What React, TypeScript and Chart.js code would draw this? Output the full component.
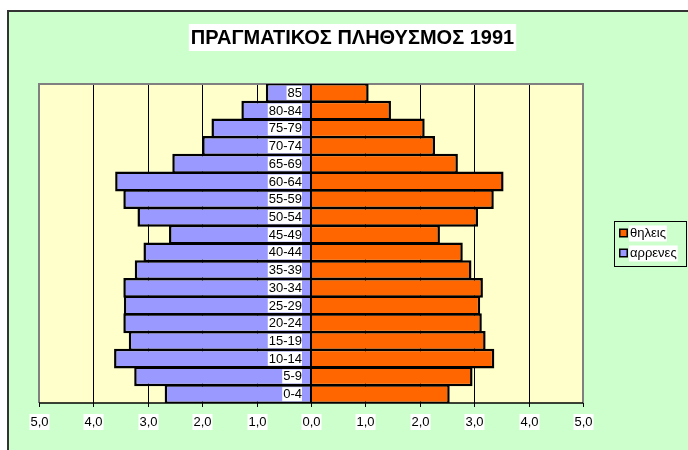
import React, { useEffect, useRef } from "react";
import { Chart, registerables } from "chart.js";

Chart.register(...registerables);

const ageGroups = ["0-4", "5-9", "10-14", "15-19", "20-24", "25-29", "30-34", "35-39", "40-44", "45-49", "50-54", "55-59", "60-64", "65-69", "70-74", "75-79", "80-84", "85"];
const males = [2.69, 3.25, 3.62, 3.35, 3.45, 3.44, 3.45, 3.24, 3.08, 2.61, 3.19, 3.45, 3.6, 2.55, 2.0, 1.83, 1.28, 0.83];
const females = [2.55, 2.97, 3.37, 3.21, 3.14, 3.11, 3.16, 2.95, 2.79, 2.37, 3.07, 3.36, 3.54, 2.7, 2.28, 2.09, 1.47, 1.06];
const xTicks = [-5, -4, -3, -2, -1, 0, 1, 2, 3, 4, 5];
const chartTitle = "ΠΡΑΓΜΑΤΙΚΟΣ ΠΛΗΘΥΣΜΟΣ 1991";
const femaleLabel = "θηλεις";
const maleLabel = "αρρενες";

const FONT = "'Liberation Sans', Arial, sans-serif";
const MALE_COLOR = "#9999FF";
const FEMALE_COLOR = "#FF6600";

const fmt = (v: number) => Math.abs(v).toFixed(1).replace(".", ",");

const decorPlugin = {
  id: "decor",
  beforeDraw(chart: any) {
    const ctx = chart.ctx;
    const a = chart.chartArea;
    const xs = chart.scales.x;
    ctx.save();
    ctx.fillStyle = "#ffffff";
    ctx.fillRect(0, 0, chart.width, chart.height);
    ctx.fillStyle = "#CCFFCC";
    ctx.fillRect(8, 11, chart.width, chart.height);
    ctx.strokeStyle = "#333333";
    ctx.lineWidth = 2;
    ctx.beginPath();
    ctx.moveTo(8, chart.height + 5);
    ctx.lineTo(8, 11);
    ctx.lineTo(chart.width + 5, 11);
    ctx.stroke();
    ctx.fillStyle = "#FFFFCC";
    ctx.fillRect(a.left, a.top, a.right - a.left, a.bottom - a.top);
    ctx.strokeStyle = "#000000";
    ctx.lineWidth = 1;
    xTicks.forEach((t) => {
      if (Math.abs(t) === 5 || t === 0) return;
      const px = Math.round(xs.getPixelForValue(t)) + 0.5;
      ctx.beginPath();
      ctx.moveTo(px, a.top);
      ctx.lineTo(px, a.bottom);
      ctx.stroke();
    });
    ctx.strokeStyle = "#808080";
    ctx.lineWidth = 2;
    ctx.beginPath();
    ctx.moveTo(a.left, a.bottom);
    ctx.lineTo(a.left, a.top);
    ctx.lineTo(a.right, a.top);
    ctx.lineTo(a.right, a.bottom);
    ctx.stroke();
    ctx.restore();
  },
  afterDatasetsDraw(chart: any) {
    const ctx = chart.ctx;
    const a = chart.chartArea;
    const xs = chart.scales.x;
    const ys = chart.scales.y;
    ctx.save();
    const zero = xs.getPixelForValue(0);
    ctx.strokeStyle = "#000000";
    ctx.lineWidth = 2;
    ctx.beginPath();
    ctx.moveTo(zero, a.top);
    ctx.lineTo(zero, a.bottom);
    ctx.stroke();
    ctx.lineWidth = 1.5;
    ctx.beginPath();
    ctx.moveTo(a.left, a.bottom);
    ctx.lineTo(a.right, a.bottom);
    ctx.stroke();
    ctx.font = "13px " + FONT;
    ctx.textBaseline = "middle";
    ctx.textAlign = "center";
    xTicks.forEach((t) => {
      const px = Math.round(xs.getPixelForValue(t)) + 0.5;
      ctx.strokeStyle = "#000000";
      ctx.lineWidth = 1;
      ctx.beginPath();
      ctx.moveTo(px, a.bottom);
      ctx.lineTo(px, a.bottom + 4);
      ctx.stroke();
      const label = fmt(t);
      const w = ctx.measureText(label).width;
      ctx.fillStyle = "#ffffff";
      ctx.fillRect(px - w / 2 - 1, 414, w + 2, 16);
      ctx.fillStyle = "#000000";
      ctx.fillText(label, px, 422);
    });
    ctx.textAlign = "right";
    const right = zero - 9;
    ageGroups.forEach((g, i) => {
      const py = ys.getPixelForValue(i);
      const w = ctx.measureText(g).width;
      ctx.fillStyle = "#ffffff";
      ctx.fillRect(right - w - 1, py - 7, w + 1, 14);
      ctx.fillStyle = "#000000";
      ctx.fillText(g, right, py + 0.5);
    });
    ctx.font = "bold 20px " + FONT;
    ctx.textAlign = "center";
    const tw = ctx.measureText(chartTitle).width;
    const cx = 352.5;
    ctx.fillStyle = "#ffffff";
    ctx.fillRect(cx - tw / 2 - 2, 24, tw + 4, 27);
    ctx.fillStyle = "#000000";
    ctx.fillText(chartTitle, cx, 38);
    ctx.fillStyle = "#CCFFCC";
    ctx.fillRect(614, 221, 73, 45);
    ctx.strokeStyle = "#000000";
    ctx.lineWidth = 1;
    ctx.strokeRect(614.5, 221.5, 72, 45);
    ctx.font = "13px " + FONT;
    ctx.textAlign = "left";
    const items = [
      { label: femaleLabel, color: FEMALE_COLOR, y: 233 },
      { label: maleLabel, color: MALE_COLOR, y: 253 },
    ];
    items.forEach((it) => {
      ctx.fillStyle = "#000000";
      ctx.fillRect(619, it.y - 4.5, 9, 9);
      ctx.fillStyle = it.color;
      ctx.fillRect(620.5, it.y - 3, 6, 6);
      const w = ctx.measureText(it.label).width;
      ctx.fillStyle = "#ffffff";
      ctx.fillRect(629, it.y - 7.5, w + 2, 16);
      ctx.fillStyle = "#000000";
      ctx.fillText(it.label, 630, it.y + 0.5);
    });
    ctx.restore();
  },
};

export default function App() {
  const ref = useRef<HTMLCanvasElement | null>(null);
  useEffect(() => {
    if (!ref.current) return;
    const chart = new Chart(ref.current, {
      type: "bar",
      data: {
        labels: ageGroups,
        datasets: [
          {
            label: maleLabel,
            data: males.map((v) => -v),
            backgroundColor: MALE_COLOR,
            borderColor: "#000000",
            borderWidth: 2.5,
            categoryPercentage: 1,
            barPercentage: 1.12,
          },
          {
            label: femaleLabel,
            data: females,
            backgroundColor: FEMALE_COLOR,
            borderColor: "#000000",
            borderWidth: 2.5,
            categoryPercentage: 1,
            barPercentage: 1.12,
          },
        ],
      },
      options: {
        indexAxis: "y",
        responsive: false,
        animation: false,
        devicePixelRatio: 1,
        layout: { padding: { left: 39, right: 105, top: 84, bottom: 47 } },
        scales: {
          x: { min: -5, max: 5, stacked: true, display: false },
          y: { stacked: true, reverse: true, display: false },
        },
        plugins: {
          legend: { display: false },
          tooltip: { enabled: false },
          title: { display: false },
        },
      },
      plugins: [decorPlugin],
    } as any);
    return () => chart.destroy();
  }, []);
  return (
    <div style={{ position: "absolute", left: 0, top: 0, width: 688, height: 450 }}>
      <canvas ref={ref} width={688} height={450} style={{ display: "block" }} />
    </div>
  );
}
